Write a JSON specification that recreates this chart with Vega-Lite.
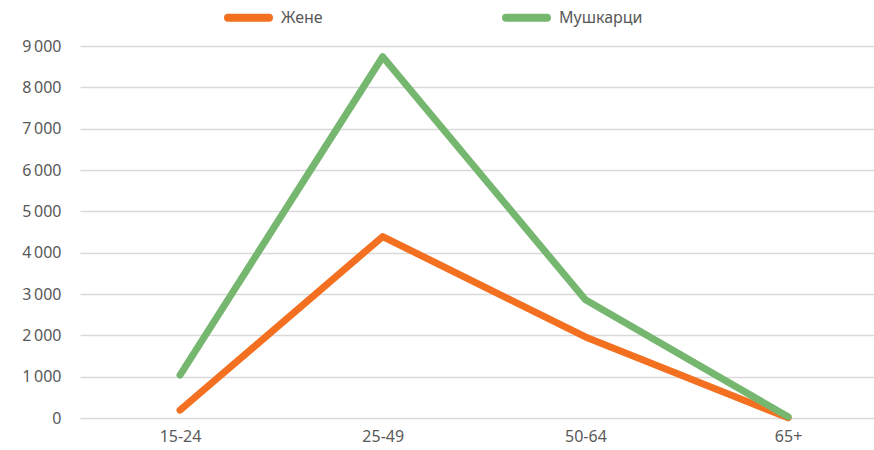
{
  "$schema": "https://vega.github.io/schema/vega-lite/v6.json",
  "autosize": "none",
  "width": 794,
  "height": 372,
  "padding": {"left": 80, "top": 46, "right": 0, "bottom": 32},
  "background": "white",
  "config": {
    "view": {"stroke": null},
    "font": "Noto Sans",
    "axis": {"labelFont": "Noto Sans", "labelFontSize": 16, "labelColor": "#595959"},
    "legend": {"labelFont": "Noto Sans", "labelFontSize": 16, "labelColor": "#595959"}
  },
  "data": {
    "values": [
      {"age": "15-24", "sex": "Жене", "value": 190},
      {"age": "25-49", "sex": "Жене", "value": 4390},
      {"age": "50-64", "sex": "Жене", "value": 1960},
      {"age": "65+", "sex": "Жене", "value": 5},
      {"age": "15-24", "sex": "Мушкарци", "value": 1040},
      {"age": "25-49", "sex": "Мушкарци", "value": 8740},
      {"age": "50-64", "sex": "Мушкарци", "value": 2860},
      {"age": "65+", "sex": "Мушкарци", "value": 30}
    ]
  },
  "mark": {"type": "line", "strokeWidth": 7, "strokeCap": "round", "strokeJoin": "round"},
  "encoding": {
    "x": {
      "field": "age",
      "type": "nominal",
      "sort": null,
      "scale": {"type": "point", "padding": 0.4586, "align": 0.538},
      "axis": {"title": null, "labelAngle": 0, "ticks": false, "domain": false, "grid": false, "labelPadding": 10}
    },
    "y": {
      "field": "value",
      "type": "quantitative",
      "scale": {"domain": [0, 9000], "nice": false},
      "axis": {
        "title": null,
        "values": [0, 1000, 2000, 3000, 4000, 5000, 6000, 7000, 8000, 9000],
        "labelExpr": "replace(format(datum.value, ','), ',', '\u2009')",
        "ticks": false,
        "domain": false,
        "labelPadding": 19,
        "gridColor": "#d9d9d9",
        "gridWidth": 1.5
      }
    },
    "color": {
      "field": "sex",
      "type": "nominal",
      "scale": {"domain": ["Жене", "Мушкарци"], "range": ["#F37021", "#76B76F"]},
      "legend": {
        "title": null,
        "orient": "none",
        "direction": "horizontal",
        "legendX": 144,
        "legendY": -53,
        "symbolType": "stroke",
        "symbolSize": 1681,
        "symbolStrokeWidth": 8,
        "labelOffset": 8,
        "columnPadding": 167,
        "encode": {"symbols": {"update": {"strokeCap": {"value": "round"}}}}
      }
    }
  }
}
